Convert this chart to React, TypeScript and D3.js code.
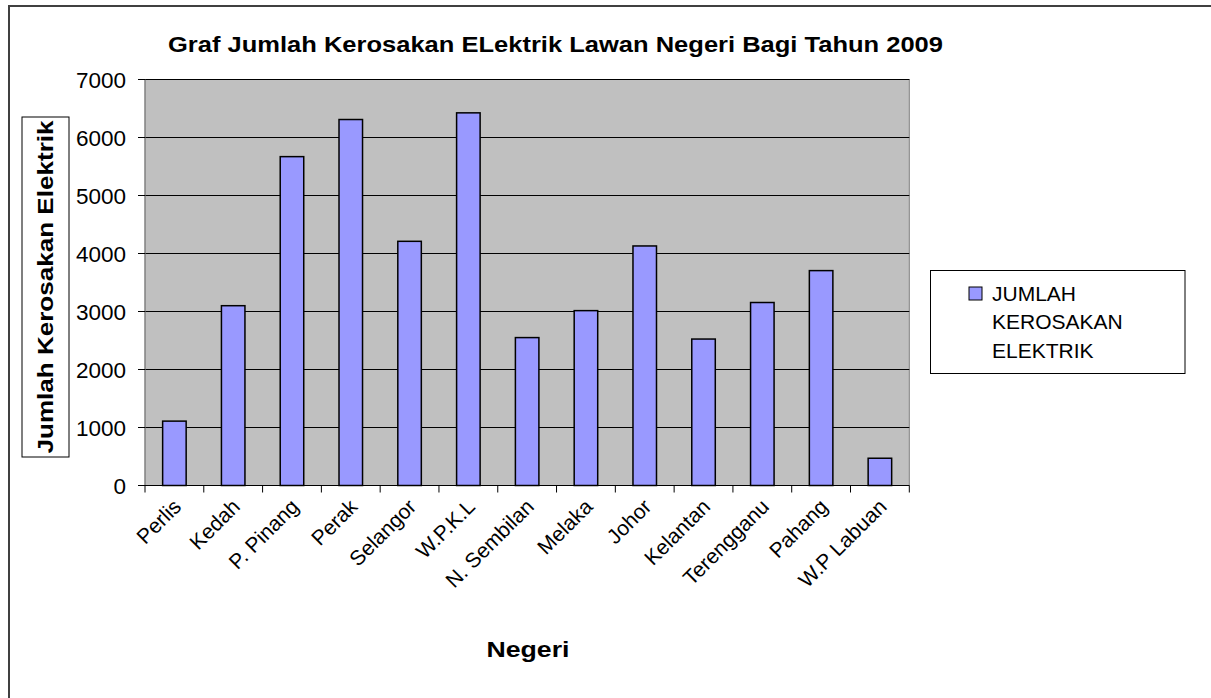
import React from "react";
import * as d3 from "d3";

const categories = [
  "Perlis", "Kedah", "P. Pinang", "Perak", "Selangor", "W.P.K.L", "N. Sembilan",
  "Melaka", "Johor", "Kelantan", "Terengganu", "Pahang", "W.P Labuan",
];
const values = [1110, 3100, 5670, 6310, 4210, 6425, 2550, 3015, 4130, 2525, 3155, 3705, 470];
const yTicks = [0, 1000, 2000, 3000, 4000, 5000, 6000, 7000];
const title = "Graf Jumlah Kerosakan ELektrik Lawan Negeri Bagi Tahun 2009";
const yTitle = "Jumlah Kerosakan Elektrik";
const xTitle = "Negeri";
const legendLines = ["JUMLAH", "KEROSAKAN", "ELEKTRIK"];

const FONT = "'Liberation Sans', Arial, sans-serif";

export default function App() {
  const left = 145, right = 909.3, top = 79.5, bottom = 485.5;
  const x = d3.scaleBand<string>().domain(categories).range([left, right]).padding(0);
  const y = d3.scaleLinear().domain([0, 7000]).range([bottom, top]);
  const bw = x.bandwidth() * 0.4;
  const boundaries = d3.range(categories.length + 1).map((i) => left + i * x.step());

  return (
    <svg width={1211} height={698} style={{ position: "absolute", left: 0, top: 0 }} fontFamily={FONT}>
      <rect x={0} y={0} width={1211} height={698} fill="#fff" />
      <rect x={9} y={6} width={1220} height={720} fill="none" stroke="#404040" strokeWidth={2} />
      <text x={555.5} y={52} textAnchor="middle" fontWeight="bold" fontSize={22}
        textLength={775} lengthAdjust="spacingAndGlyphs">{title}</text>

      {/* plot area */}
      <rect x={left} y={top} width={right - left} height={bottom - top} fill="#c0c0c0" stroke="#808080" strokeWidth={1} />
      {yTicks.filter((t) => t > 0).map((t) => (
        <line key={t} x1={left} x2={right} y1={y(t)} y2={y(t)} stroke="#000" strokeWidth={1} />
      ))}
      {categories.map((c, i) => (
        <rect key={c} x={x(c)! + (x.bandwidth() - bw) / 2} y={y(values[i])} width={bw}
          height={bottom - y(values[i])} fill="#9999ff" stroke="#000" strokeWidth={1.5} />
      ))}
      {/* y axis */}
      <line x1={left} x2={left} y1={top} y2={bottom} stroke="#808080" strokeWidth={1} />
      {yTicks.map((t) => (
        <g key={t}>
          <line x1={left - 7} x2={left} y1={y(t)} y2={y(t)} stroke="#000" />
          <text x={126} y={y(t)} dy="0.36em" textAnchor="end" fontSize={22.5}>{t}</text>
        </g>
      ))}
      {/* x axis */}
      <line x1={left} x2={right} y1={bottom} y2={bottom} stroke="#000" strokeWidth={1} />
      {boundaries.map((b, i) => (
        <line key={i} x1={b} x2={b} y1={bottom} y2={bottom + 7} stroke="#000" />
      ))}
      {categories.map((c) => {
        const cx = x(c)! + x.bandwidth() / 2;
        return (
          <text key={c} transform={`translate(${cx + 8},508) rotate(-45)`} textAnchor="end" fontSize={21}>{c}</text>
        );
      })}
      <text x={528} y={657} textAnchor="middle" fontWeight="bold" fontSize={22}
        textLength={83} lengthAdjust="spacingAndGlyphs">{xTitle}</text>

      {/* y title */}
      <rect x={22} y={117} width={47} height={340} fill="#fff" stroke="#000" strokeWidth={1} />
      <text transform="translate(45.5,287) rotate(-90)" textAnchor="middle" dy="0.36em" fontWeight="bold" fontSize={22}
        textLength={333} lengthAdjust="spacingAndGlyphs">{yTitle}</text>

      {/* legend */}
      <rect x={930.5} y={270.5} width={254.5} height={103} fill="#fff" stroke="#000" strokeWidth={1} />
      <rect x={969} y={287} width={13} height={13} fill="#9999ff" stroke="#000" strokeWidth={1} />
      {legendLines.map((l, i) => (
        <text key={l} x={992} y={300.5 + i * 28.5} fontSize={21}>{l}</text>
      ))}
    </svg>
  );
}
